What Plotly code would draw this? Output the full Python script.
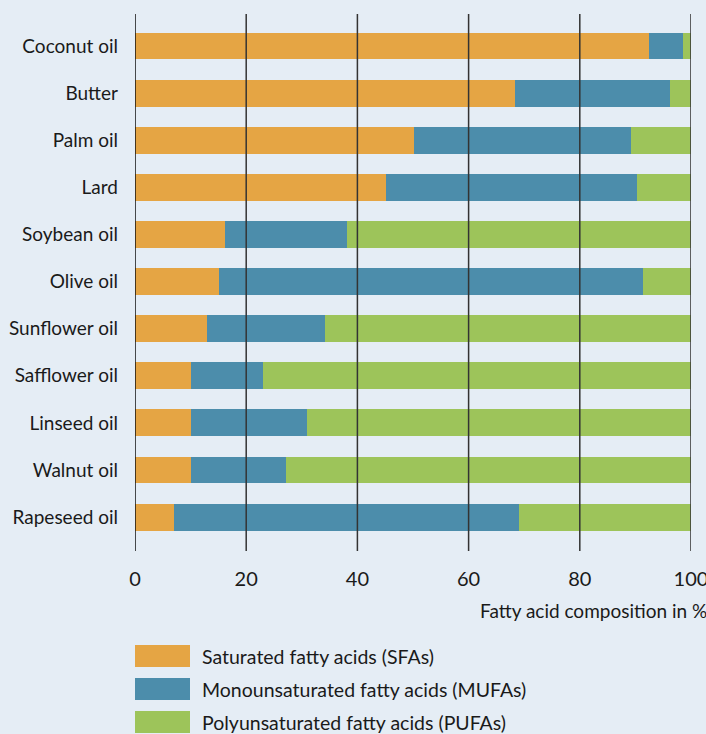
import plotly.graph_objects as go

oils = ["Coconut oil", "Butter", "Palm oil", "Lard", "Soybean oil", "Olive oil",
        "Sunflower oil", "Safflower oil", "Linseed oil", "Walnut oil", "Rapeseed oil"]
sfa = [92.4, 68.3, 50.2, 45.2, 16.2, 15.1, 12.9, 10.0, 10.0, 10.0, 7.0]
mufa = [6.1, 28.0, 39.0, 45.1, 21.9, 76.3, 21.2, 13.0, 21.0, 17.1, 62.1]
pufa = [1.5, 4.0, 11.0, 9.7, 61.9, 8.6, 65.9, 77.0, 69.0, 72.9, 30.9]
series_names = ["Saturated fatty acids (SFAs)", "Monounsaturated fatty acids (MUFAs)",
                "Polyunsaturated fatty acids (PUFAs)"]
colors = ["#E5A544", "#4C8DAB", "#9DC45A"]
x_ticks = [0, 20, 40, 60, 80, 100]
x_title = "Fatty acid composition in %"

FONT = "Lato"
BG = "#E5EDF5"
TXT = "#1a1a1a"

fig = go.Figure()
for vals, name, col in zip([sfa, mufa, pufa], series_names, colors):
    fig.add_trace(go.Bar(y=oils, x=vals, name=name, orientation="h",
                         marker=dict(color=col, line=dict(width=0)),
                         width=0.57, showlegend=False))

# vertical grid lines drawn above bars
for t in x_ticks:
    fig.add_shape(type="line", xref="x", yref="paper", x0=t, x1=t, y0=0, y1=1,
                  line=dict(color="#111111" if t == 0 else "#333333", width=1.5),
                  layer="above")

# plot area in pixels
L, T, PW, PH, H = 135, 14, 556, 537, 734
B = H - T - PH


def py(ypix):
    return (H - ypix - B) / PH


def px(xpix):
    return (xpix - L) / PW


# custom legend
leg_y = [656, 689, 722]
for yy, name, col in zip(leg_y, series_names, colors):
    fig.add_shape(type="rect", xref="paper", yref="paper",
                  x0=px(135), x1=px(190), y0=py(yy + 11), y1=py(yy - 11),
                  fillcolor=col, line=dict(width=0), layer="above")
    fig.add_annotation(xref="paper", yref="paper", x=px(200), y=py(yy),
                       text=name, showarrow=False, xanchor="left", yanchor="middle",
                       font=dict(family=FONT, size=19.5, color=TXT))

fig.add_annotation(xref="paper", yref="paper", x=px(709), y=py(610),
                   text=x_title, showarrow=False, xanchor="right", yanchor="middle",
                   font=dict(family=FONT, size=19, color=TXT))

fig.update_layout(
    barmode="stack",
    width=706, height=734,
    margin=dict(l=L, r=706 - L - PW, t=T, b=B, pad=0, autoexpand=False),
    paper_bgcolor=BG, plot_bgcolor=BG,
    font=dict(family=FONT, size=19, color=TXT),
    xaxis=dict(range=[0, 100.001], tickvals=x_ticks, showgrid=False, zeroline=False,
               showline=False, ticks="", ticklabelstandoff=14, automargin=False,
               ticklabeloverflow="allow",
               tickfont=dict(family=FONT, size=20, color=TXT), fixedrange=True),
    yaxis=dict(categoryorder="array", categoryarray=oils[::-1],
               range=[-0.72, 10.68], showgrid=False, zeroline=False, automargin=False,
               showline=False, ticks="", ticklabelstandoff=16,
               tickfont=dict(family=FONT, size=19, color=TXT)),
)

fig.write_html("out.html", config={"displayModeBar": False},
               post_script="document.body.style.margin='0';document.body.style.overflow='hidden';")
